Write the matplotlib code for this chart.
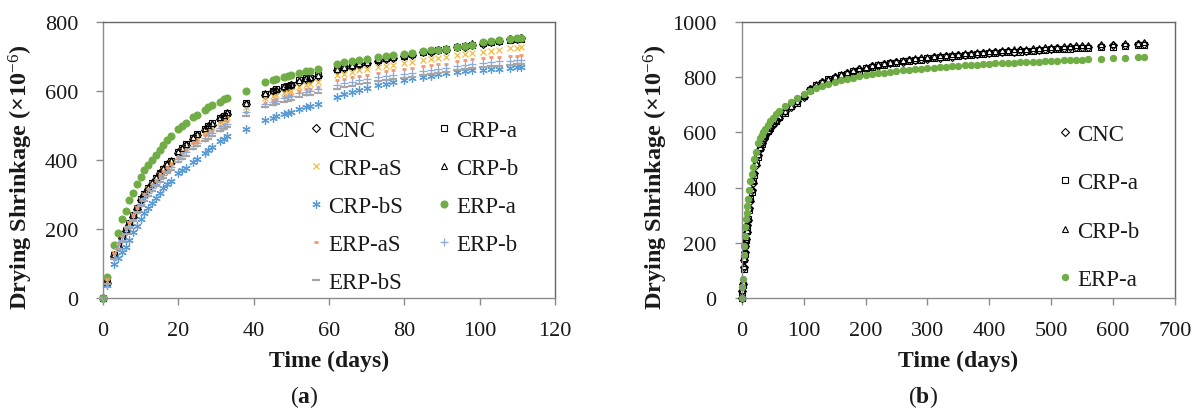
import matplotlib.pyplot as plt

plt.rcParams['font.family'] = 'Liberation Serif'
plt.rcParams['mathtext.fontset'] = 'custom'
plt.rcParams['mathtext.rm'] = 'Liberation Serif'
plt.rcParams['mathtext.it'] = 'Liberation Serif:italic'
plt.rcParams['mathtext.bf'] = 'Liberation Serif:bold'

# ---- panel (a): 111 days ----
days_a = [0, 1, 3, 4, 5, 6, 7, 8, 9, 10,
          11, 12, 13, 14, 15, 16, 17, 18, 20, 21,
          22, 24, 25, 27, 28, 29, 31, 32, 33, 38,
          43, 45, 46, 48, 49, 50, 52, 54, 55, 57,
          62, 64, 66, 68, 70, 73, 75, 77, 80, 82,
          85, 87, 89, 91, 94, 96, 98, 101, 103, 105,
          108, 110, 111]

cnc_a = [0, 44, 121, 148, 173, 194, 213, 236, 259, 283,
         299, 316, 331, 344, 361, 371, 386, 394, 421, 431,
         442, 461, 471, 487, 496, 502, 519, 524, 533, 561,
         589, 599, 600, 609, 611, 616, 627, 634, 635, 643,
         661, 665, 672, 675, 681, 687, 693, 695, 701, 703,
         711, 713, 717, 718, 727, 728, 733, 736, 742, 743,
         749, 750, 752]
crp_a_a = [0, 48, 125, 152, 176, 198, 217, 240, 262, 286,
           303, 318, 334, 348, 363, 375, 388, 398, 424, 434,
           445, 465, 474, 490, 498, 506, 521, 528, 536, 565,
           592, 600, 604, 611, 614, 618, 630, 636, 638, 645,
           662, 668, 673, 678, 682, 689, 694, 697, 702, 706,
           712, 715, 718, 721, 728, 730, 734, 738, 742, 745,
           748, 749, 750]
crp_as_a = [0, 52, 130, 156, 180, 200, 218, 240, 262, 284,
            300, 315, 330, 343, 357, 369, 381, 391, 415, 426,
            436, 455, 464, 480, 487, 494, 509, 516, 523, 552,
            578, 586, 589, 595, 598, 601, 612, 617, 619, 625,
            645, 650, 655, 659, 663, 669, 673, 676, 680, 683,
            689, 692, 695, 697, 703, 706, 709, 713, 716, 719,
            723, 725, 727]
crp_b_a = [0, 50, 128, 155, 178, 200, 219, 242, 265, 288,
           305, 321, 336, 350, 365, 377, 390, 400, 426, 436,
           447, 467, 476, 492, 500, 508, 523, 530, 538, 566,
           594, 602, 606, 613, 616, 620, 632, 638, 640, 647,
           664, 670, 675, 680, 684, 691, 696, 699, 704, 708,
           714, 717, 720, 723, 730, 733, 737, 741, 745, 748,
           752, 754, 756]
crp_bs_a = [0, 38, 100, 118, 135, 148, 170, 192, 210, 228,
            248, 262, 276, 290, 305, 318, 330, 340, 362, 370,
            378, 393, 402, 420, 430, 439, 455, 462, 468, 490,
            515, 522, 526, 533, 536, 540, 547, 552, 555, 562,
            582, 590, 596, 602, 608, 616, 621, 625, 632, 636,
            641, 644, 648, 651, 655, 657, 659, 661, 663, 664,
            667, 668, 669]
erp_a_a = [0, 62, 155, 190, 228, 252, 285, 305, 330, 350,
           370, 385, 400, 415, 430, 444, 458, 470, 490, 498,
           507, 523, 530, 545, 552, 558, 568, 575, 580, 600,
           625, 632, 635, 640, 643, 645, 652, 656, 658, 663,
           678, 682, 686, 689, 692, 698, 701, 703, 706, 710,
           714, 717, 719, 721, 727, 730, 734, 741, 743, 746,
           750, 752, 752]
erp_as_a = [0, 55, 132, 158, 181, 202, 220, 242, 264, 285,
            301, 316, 330, 342, 356, 367, 379, 388, 410, 420,
            430, 448, 456, 471, 478, 485, 499, 505, 512, 540,
            566, 573, 576, 582, 585, 588, 600, 604, 606, 612,
            630, 635, 639, 643, 647, 652, 656, 659, 663, 666,
            671, 674, 677, 679, 685, 688, 691, 694, 697, 699,
            701, 702, 703]
erp_b_a = [0, 42, 118, 145, 168, 190, 208, 230, 252, 272,
           289, 304, 318, 331, 345, 357, 369, 379, 402, 412,
           422, 440, 449, 464, 471, 478, 492, 499, 505, 538,
           562, 569, 572, 578, 581, 584, 593, 597, 599, 604,
           618, 623, 627, 631, 635, 640, 643, 646, 650, 653,
           658, 661, 664, 666, 671, 674, 677, 680, 683, 685,
           687, 688, 689]
erp_bs_a = [0, 40, 115, 142, 164, 185, 203, 224, 246, 266,
            282, 297, 311, 324, 337, 349, 361, 371, 393, 403,
            413, 431, 440, 455, 462, 469, 483, 490, 496, 528,
            552, 559, 562, 568, 571, 574, 583, 587, 589, 594,
            606, 611, 615, 619, 623, 628, 631, 634, 638, 641,
            646, 649, 652, 654, 659, 662, 665, 668, 671, 673,
            676, 677, 678]

# ---- panel (b): 650 days ----
days_b = [0, 1, 2, 3, 4, 5, 6, 7, 8, 9,
          10, 12, 14, 16, 18, 20, 23, 26, 29, 32,
          35, 38, 42, 46, 50, 55, 60, 70, 80, 90,
          100, 110, 120, 130, 140, 150, 160, 170, 180, 190,
          200, 210, 220, 230, 240, 250, 260, 270, 280, 290,
          300, 310, 320, 330, 340, 350, 360, 370, 380, 390,
          400, 410, 420, 430, 440, 450, 460, 470, 480, 490,
          500, 510, 520, 530, 540, 550, 560, 580, 600, 620,
          640, 650]

cnc_b = [0, 28, 52, 112, 138, 167, 188, 216, 238, 264,
         283, 325, 353, 392, 418, 452, 483, 517, 538, 562,
         573, 590, 601, 619, 628, 645, 653, 676, 690, 712,
         728, 757, 768, 782, 788, 800, 804, 815, 818, 828,
         830, 840, 841, 848, 849, 855, 855, 861, 861, 866,
         866, 871, 870, 875, 874, 879, 878, 883, 882, 887,
         886, 890, 889, 893, 892, 896, 895, 898, 898, 902,
         901, 905, 904, 907, 907, 910, 909, 913, 915, 917,
         919, 921]
crp_a_b = [0, 22, 48, 105, 142, 160, 192, 210, 243, 258,
           288, 320, 358, 386, 423, 447, 488, 512, 543, 558,
           578, 585, 606, 614, 633, 640, 657, 671, 694, 707,
           733, 752, 772, 778, 792, 795, 808, 810, 822, 823,
           834, 835, 843, 844, 850, 851, 857, 857, 862, 862,
           867, 867, 871, 871, 875, 875, 879, 879, 883, 883,
           886, 886, 889, 889, 892, 892, 895, 895, 898, 898,
           900, 900, 903, 903, 905, 905, 906, 908, 910, 912,
           914, 915]
crp_b_b = [0, 30, 58, 118, 145, 172, 196, 220, 246, 268,
           290, 328, 362, 395, 426, 455, 490, 520, 546, 565,
           580, 592, 608, 620, 634, 646, 660, 678, 696, 714,
           736, 760, 774, 786, 794, 803, 811, 818, 825, 831,
           837, 843, 847, 852, 856, 859, 863, 866, 868, 871,
           873, 876, 878, 880, 882, 884, 886, 888, 890, 892,
           894, 895, 897, 898, 900, 901, 903, 904, 906, 907,
           909, 910, 912, 913, 915, 916, 917, 919, 921, 923,
           924, 925]
erp_a_b = [0, 40, 70, 155, 190, 225, 258, 287, 310, 335,
           359, 390, 425, 450, 475, 505, 530, 560, 578, 592,
           603, 612, 625, 640, 652, 665, 676, 695, 710, 725,
           737, 748, 760, 768, 775, 782, 788, 793, 798, 802,
           806, 810, 813, 816, 819, 821, 824, 826, 828, 830,
           832, 834, 836, 838, 839, 841, 842, 844, 845, 846,
           848, 849, 850, 851, 852, 853, 854, 855, 856, 857,
           858, 859, 860, 861, 862, 863, 864, 866, 868, 870,
           871, 872]

W, H = 1194, 410
FS_TICK = 16
FS_XLAB = 17
FS_YLAB = 17.5
FS_LEG = 16.5
SPINE = '#8c8c8c'
TXT = '#1a1a1a'

BLACK = dict(color='black', mfc='none', mew=0.8)
STYLES = {
    'CNC':    dict(marker='D', ms=4.0, **BLACK),
    'CRP-a':  dict(marker='s', ms=4.2, **BLACK),
    'CRP-aS': dict(marker='x', ms=5.0, color='#f3bd45', mew=0.9),
    'CRP-b':  dict(marker='^', ms=4.6, **BLACK),
    'CRP-bS': dict(marker=(6, 2, 0), ms=6.0, color='#5b9bd5', mew=0.9),
    'ERP-a':  dict(marker='o', ms=4.8, color='#70ad47', mec='#70ad47'),
    'ERP-aS': dict(marker='_', ms=3.5, color='#f29a6c', mew=2.0),
    'ERP-b':  dict(marker='+', ms=6.0, color='#8eaadb', mew=0.9),
    'ERP-bS': dict(marker='_', ms=6.0, color='#a6a6a6', mew=1.6),
}


def box(left, top, right, bottom):
    return [left / W, 1 - bottom / H, (right - left) / W, (bottom - top) / H]


def style_axes(ax, xmax, xstep, ymax, ystep):
    ax.set_xlim(0, xmax)
    ax.set_ylim(0, ymax)
    ax.set_xticks(range(0, xmax + 1, xstep))
    ax.set_yticks(range(0, ymax + 1, ystep))
    for s in ax.spines.values():
        s.set_color(SPINE)
        s.set_linewidth(1.0)
    ax.spines['top'].set_color('#666666')
    ax.spines['right'].set_color('#666666')
    ax.tick_params(direction='out', length=5, width=1.0, color=SPINE,
                   labelsize=FS_TICK, labelcolor=TXT)
    ax.tick_params(axis='y', pad=13)
    ax.tick_params(axis='x', pad=11)
    ax.set_xlabel('Time (days)', fontsize=FS_XLAB, fontweight='bold', color=TXT)
    ax.set_ylabel(r'Drying Shrinkage (×10$^{-6}$)', fontsize=FS_YLAB,
                  fontweight='bold', color=TXT)
    ax.xaxis.set_label_coords(0.5, -0.185)


fig = plt.figure(figsize=(W / 100, H / 100), dpi=100)

# panel (a)
ax1 = fig.add_axes(box(103, 22.7, 555, 299.3))
series_a = [('CNC', cnc_a), ('CRP-a', crp_a_a), ('CRP-aS', crp_as_a),
            ('CRP-b', crp_b_a), ('CRP-bS', crp_bs_a), ('ERP-a', erp_a_a),
            ('ERP-aS', erp_as_a), ('ERP-b', erp_b_a), ('ERP-bS', erp_bs_a)]
h1 = {}
for name, vals in series_a:
    h1[name], = ax1.plot(days_a, vals, ls='none', clip_on=False, label=name,
                         **STYLES[name])
style_axes(ax1, 120, 20, 800, 200)
ax1.yaxis.set_label_coords(-0.150, 0.44)
order = ['CNC', 'CRP-aS', 'CRP-bS', 'ERP-aS', 'ERP-bS',
         'CRP-a', 'CRP-b', 'ERP-a', 'ERP-b']
fig.legend([h1[n] for n in order], order, ncol=2, frameon=False,
           loc='upper left', bbox_to_anchor=(309 / W, 1 - 120.5 / H),
           fontsize=FS_LEG, borderpad=0, borderaxespad=0,
           handlelength=0.6, handletextpad=0.23, columnspacing=1.5,
           labelspacing=0.75, labelcolor=TXT)

# panel (b)
ax2 = fig.add_axes(box(741.7, 22.7, 1175, 299.3))
series_b = [('CNC', cnc_b), ('CRP-a', crp_a_b), ('CRP-b', crp_b_b),
            ('ERP-a', erp_a_b)]
h2 = []
for name, vals in series_b:
    st = dict(STYLES[name])
    st['ms'] = st['ms'] * 0.9
    line, = ax2.plot(days_b, vals, ls='none', clip_on=False, label=name, **st)
    h2.append(line)
style_axes(ax2, 700, 100, 1000, 200)
ax2.yaxis.set_label_coords(-0.165, 0.44)
fig.legend(h2, [n for n, _ in series_b], frameon=False,
           loc='upper left', bbox_to_anchor=(1058 / W, 1 - 124.5 / H),
           fontsize=FS_LEG, borderpad=0, borderaxespad=0,
           handlelength=0.6, handletextpad=0.23, labelspacing=1.2,
           labelcolor=TXT)

fig.text(304 / W, 1 - 397 / H, r'($\mathbf{a}$)', ha='center', va='center',
         fontsize=17, color=TXT)
fig.text(923 / W, 1 - 397 / H, r'($\mathbf{b}$)', ha='center', va='center',
         fontsize=17, color=TXT)

fig.savefig('out.png', dpi=100)
